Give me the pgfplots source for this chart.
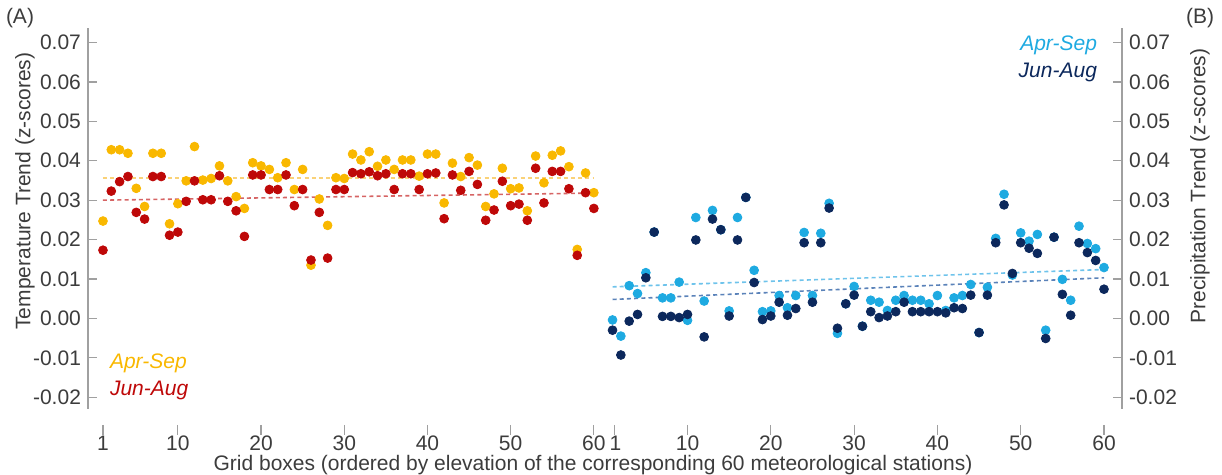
\documentclass[border=0pt]{standalone}
\usepackage{fontspec}
\setmainfont{Liberation Sans}
\usepackage{pgfplots}
\pgfplotsset{compat=1.18}
\usepackage{pgfplotstable}

\definecolor{txtgray}{RGB}{60,60,60}
\definecolor{axgray}{RGB}{160,160,160}
\definecolor{aprT}{RGB}{249,184,0}
\definecolor{junT}{RGB}{190,8,8}
\definecolor{aprTline}{RGB}{250,210,120}
\definecolor{junTline}{RGB}{214,100,100}
\definecolor{aprP}{RGB}{30,170,225}
\definecolor{junP}{RGB}{12,40,92}
\definecolor{aprPline}{RGB}{110,195,235}
\definecolor{junPline}{RGB}{90,130,185}

% temperature trends (z-scores), grid boxes 1-60
\pgfplotstableread{
i aprsep junaug
1 0.0247 0.0173
2 0.0428 0.0323
3 0.0428 0.0347
4 0.0419 0.0360
5 0.0330 0.0269
6 0.0284 0.0252
7 0.0419 0.0360
8 0.0419 0.0360
9 0.0240 0.0211
10 0.0291 0.0219
11 0.0349 0.0297
12 0.0436 0.0349
13 0.0351 0.0301
14 0.0355 0.0301
15 0.0387 0.0362
16 0.0349 0.0297
17 0.0309 0.0273
18 0.0279 0.0208
19 0.0395 0.0364
20 0.0387 0.0364
21 0.0378 0.0327
22 0.0357 0.0327
23 0.0395 0.0364
24 0.0327 0.0286
25 0.0378 0.0327
26 0.0135 0.0148
27 0.0303 0.0269
28 0.0236 0.0153
29 0.0357 0.0327
30 0.0355 0.0327
31 0.0417 0.0370
32 0.0402 0.0367
33 0.0423 0.0372
34 0.0386 0.0362
35 0.0402 0.0367
36 0.0378 0.0327
37 0.0402 0.0367
38 0.0402 0.0367
39 0.0361 0.0327
40 0.0417 0.0367
41 0.0417 0.0369
42 0.0293 0.0253
43 0.0394 0.0364
44 0.0360 0.0325
45 0.0408 0.0373
46 0.0389 0.0340
47 0.0284 0.0249
48 0.0316 0.0275
49 0.0381 0.0348
50 0.0329 0.0286
51 0.0331 0.0290
52 0.0273 0.0249
53 0.0412 0.0381
54 0.0344 0.0293
55 0.0414 0.0373
56 0.0425 0.0373
57 0.0385 0.0329
58 0.0175 0.0160
59 0.0369 0.0319
60 0.0319 0.0279
}\temptab

% precipitation trends (z-scores), grid boxes 1-60
\pgfplotstableread{
i aprsep junaug
1 -0.0004 -0.0030
2 -0.0045 -0.0093
3 0.0083 -0.0007
4 0.0063 0.0010
5 0.0116 0.0103
6 0.0219 0.0219
7 0.0052 0.0005
8 0.0052 0.0005
9 0.0092 0.0002
10 -0.0005 0.0010
11 0.0256 0.0199
12 0.0044 -0.0047
13 0.0274 0.0252
14 0.0225 0.0225
15 0.0019 0.0006
16 0.0256 0.0199
17 0.0307 0.0307
18 0.0122 0.0091
19 0.0017 -0.0003
20 0.0019 0.0006
21 0.0058 0.0041
22 0.0027 0.0008
23 0.0058 0.0025
24 0.0218 0.0192
25 0.0058 0.0041
26 0.0216 0.0192
27 0.0292 0.0280
28 -0.0038 -0.0025
29 0.0037 0.0037
30 0.0081 0.0059
31 -0.0020 -0.0020
32 0.0046 0.0017
33 0.0041 0.0002
34 0.0020 0.0006
35 0.0046 0.0017
36 0.0058 0.0041
37 0.0046 0.0017
38 0.0046 0.0017
39 0.0037 0.0017
40 0.0058 0.0017
41 0.0020 0.0014
42 0.0052 0.0027
43 0.0058 0.0025
44 0.0086 0.0059
45 -0.0036 -0.0036
46 0.0079 0.0059
47 0.0203 0.0192
48 0.0315 0.0288
49 0.0110 0.0114
50 0.0217 0.0192
51 0.0196 0.0178
52 0.0213 0.0165
53 -0.0030 -0.0051
54 0.0206 0.0206
55 0.0099 0.0061
56 0.0046 0.0008
57 0.0234 0.0192
58 0.0190 0.0167
59 0.0177 0.0147
60 0.0129 0.0074
}\prectab

\tikzset{xmarks/.style={axgray, line width=0.6pt}}

\begin{document}
\begin{tikzpicture}[font=\fontsize{10.5}{12}\selectfont, text=txtgray]
\useasboundingbox (-44pt,-33pt) rectangle (567pt,204.5pt);
\pgfplotsset{
  panel/.style={
    scale only axis, height=190.5pt, clip=false,
    ymin=-0.023, ymax=0.0737,
    ytick={-0.02,-0.01,0,0.01,0.02,0.03,0.04,0.05,0.06,0.07},
    scaled y ticks=false,
    yticklabel style={/pgf/number format/.cd, fixed, fixed zerofill, precision=2},
    /pgf/number format/assume math mode=true,
    xtick={1,10,20,30,40,50,60},
    axis x line*=bottom, x axis line style={draw=none},
    tick align=inside, major tick length=4.5pt,
    tick style={axgray, line width=0.6pt},
    xtick style={draw=none},
    xticklabel style={yshift=-10pt},
    y axis line style={axgray, line width=0.6pt},
    tick label style={font=\fontsize{10.5}{12}\selectfont, text=txtgray},
    label style={font=\fontsize{10.5}{12}\selectfont, text=txtgray},
    every axis plot/.append style={mark size=2.2pt},
  },
}
% (A) temperature
\begin{axis}[panel, at={(0,0)}, anchor=south west, width=257.1pt,
    xmin=-0.8, xmax=61, axis y line*=left,
    ylabel={Temperature Trend (z-scores)},
    ylabel style={at={(axis description cs:-0.1225,0.572)}, anchor=center}]
  \pgfplotsinvokeforeach{1,10,20,30,40,50,60}{
    \draw[xmarks] ([yshift=-8pt]axis cs:#1,-0.023) -- ([yshift=-13pt]axis cs:#1,-0.023);}
  \addplot[aprTline, line width=0.8pt, dash pattern=on 2pt off 1.6pt] coordinates {(1,0.0357) (60,0.0357)};
  \addplot[junTline, line width=0.8pt, dash pattern=on 2pt off 1.6pt] coordinates {(1,0.0300) (60,0.0318)};
  \addplot[only marks, mark=*, aprT, mark options={draw=none, fill=aprT}] table[x=i, y=aprsep] {\temptab};
  \addplot[only marks, mark=*, junT, mark options={draw=none, fill=junT}] table[x=i, y=junaug] {\temptab};
\end{axis}
% (B) precipitation
\begin{axis}[panel, at={(258.1pt,0)}, anchor=south west, width=258.9pt,
    xmin=0, xmax=62.16, axis y line*=right,
    xticklabels={\hspace{3pt}1,10,20,30,40,50,60},
    ylabel={Precipitation Trend (z-scores)},
    ylabel style={at={(axis description cs:1.1507,0.585)}, anchor=center}]
  \pgfplotsinvokeforeach{1.2,10,20,30,40,50,60}{
    \draw[xmarks] ([yshift=-8pt]axis cs:#1,-0.023) -- ([yshift=-13pt]axis cs:#1,-0.023);}
  \addplot[aprPline, line width=0.8pt, dash pattern=on 2pt off 1.6pt] coordinates {(1,0.0080) (60,0.0124)};
  \addplot[junPline, line width=0.8pt, dash pattern=on 2pt off 1.6pt] coordinates {(1,0.0048) (60,0.0103)};
  \addplot[only marks, mark=*, aprP, mark options={draw=none, fill=aprP}] table[x=i, y=aprsep] {\prectab};
  \addplot[only marks, mark=*, junP, mark options={draw=none, fill=junP}] table[x=i, y=junaug] {\prectab};
\end{axis}
\node at (-34pt,195.5pt) {(A)};
\node at (556pt,195.5pt) {(B)};
\node[anchor=west, text=aprT] at (7.5pt,23pt) {\itshape Apr-Sep};
\node[anchor=west, text=junT] at (7.5pt,9.5pt) {\itshape Jun-Aug};
\node[anchor=east, text=aprP] at (508pt,182pt) {\itshape Apr-Sep};
\node[anchor=east, text=junP] at (508pt,168.5pt) {\itshape Jun-Aug};
\node at (252.5pt,-27.8pt) {Grid boxes (ordered by elevation of the corresponding 60 meteorological stations)};
\end{tikzpicture}
\end{document}
